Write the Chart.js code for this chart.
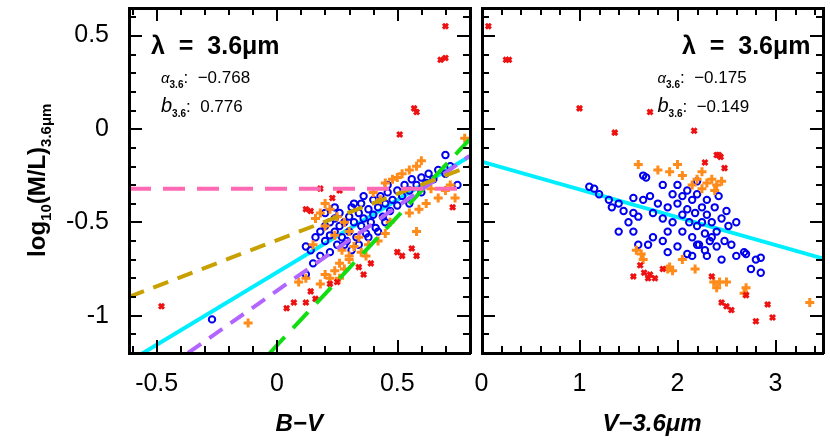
<!DOCTYPE html><html><head><meta charset="utf-8">
<script src="https://cdn.jsdelivr.net/npm/chart.js@4"></script>
<style>body{margin:0;background:#fff}canvas{position:absolute;top:0}</style></head><body>
<div id="wrapL" style="position:absolute;left:0;top:0;width:477px;height:443px"><canvas id="cL"></canvas></div>
<div id="wrapR" style="position:absolute;left:474px;top:0;width:356px;height:443px"><canvas id="cR"></canvas></div>
<script>
const xTicksL=[-0.5,0,0.5], yTicks=[0.5,0,-0.5,-1], xTicksR=[0,1,2,3];
const fitL={a:-0.768,b:0.776}, fitR={a:-0.175,b:-0.149};
const pinkLine=[[-0.615,-0.32],[0.8,-0.32]];
const goldLine=[[-0.615,-0.9],[0.8,-0.2]];
const purpleLine=[[-0.37,-1.2],[0.8,-0.145]];
const greenLine=[[-0.03,-1.2],[0.8,-0.057]];
const redL=[[0.7,0.55],[0.68,0.37],[0.7,0.38],[0.57,0.11],[0.58,0.09],[0.51,-0.03],[0.73,-0.42],[-0.48,-0.95],[0.12,-0.43],[0.14,-0.44],[0.18,-0.32],[0.26,-0.33],[0.23,-0.37],[0.5,-0.66],[0.52,-0.68],[0.58,-0.68],[0.56,-0.64],[0.39,-0.72],[0.36,-0.78],[0.25,-0.82],[0.22,-0.83],[0.14,-0.87],[0.16,-0.91],[0.07,-0.93],[0.04,-0.96],[0.12,-0.93],[0.34,-0.74]];
const orangeL=[[0.78,-0.05],[0.6,-0.17],[0.58,-0.2],[0.55,-0.22],[0.5,-0.26],[0.48,-0.27],[0.45,-0.29],[0.72,-0.3],[0.74,-0.37],[0.67,-0.37],[0.62,-0.4],[0.59,-0.43],[0.55,-0.45],[0.58,-0.55],[0.47,-0.5],[0.45,-0.56],[0.42,-0.6],[0.38,-0.62],[0.35,-0.66],[0.3,-0.7],[0.26,-0.72],[0.24,-0.76],[0.2,-0.78],[0.22,-0.8],[0.18,-0.83],[0.26,-0.8],[0.28,-0.75],[0.3,-0.68],[0.32,-0.63],[0.2,-0.4],[0.22,-0.43],[0.18,-0.45],[0.25,-0.47],[0.16,-0.48],[0.28,-0.5],[0.2,-0.52],[0.3,-0.55],[0.24,-0.57],[0.34,-0.58],[0.12,-0.8],[0.09,-0.82],[-0.12,-1.04],[0.4,-0.34],[0.43,-0.38],[0.52,-0.24],[0.64,-0.32],[0.7,-0.33],[0.37,-0.68],[0.27,-0.65],[0.15,-0.62]];
const blueL=[[-0.27,-1.02],[0.12,-0.63],[0.14,-0.65],[0.16,-0.58],[0.18,-0.55],[0.2,-0.6],[0.2,-0.52],[0.22,-0.5],[0.22,-0.57],[0.24,-0.55],[0.24,-0.48],[0.26,-0.52],[0.26,-0.45],[0.27,-0.58],[0.28,-0.5],[0.28,-0.62],[0.3,-0.47],[0.3,-0.55],[0.31,-0.42],[0.32,-0.5],[0.33,-0.58],[0.34,-0.45],[0.35,-0.52],[0.35,-0.4],[0.36,-0.48],[0.37,-0.56],[0.38,-0.43],[0.39,-0.5],[0.4,-0.38],[0.4,-0.46],[0.41,-0.53],[0.42,-0.42],[0.43,-0.36],[0.44,-0.47],[0.45,-0.4],[0.46,-0.34],[0.47,-0.44],[0.48,-0.38],[0.5,-0.33],[0.5,-0.41],[0.52,-0.36],[0.53,-0.3],[0.55,-0.33],[0.56,-0.27],[0.58,-0.3],[0.6,-0.26],[0.62,-0.29],[0.63,-0.24],[0.65,-0.27],[0.67,-0.22],[0.7,-0.24],[0.7,-0.14],[0.72,-0.2],[0.75,-0.3],[0.15,-0.72],[0.18,-0.68],[0.22,-0.66],[0.25,-0.62],[0.29,-0.6],[0.31,-0.65],[0.34,-0.62],[0.38,-0.58],[0.42,-0.55],[0.45,-0.5],[0.12,-0.78],[0.2,-0.45],[0.24,-0.42],[0.32,-0.4],[0.36,-0.36],[0.46,-0.3],[0.55,-0.4],[0.6,-0.34]];
const redR=[[0.07,0.55],[0.25,0.37],[0.28,0.37],[1.0,0.11],[1.72,0.09],[1.36,-0.02],[2.17,-0.01],[2.28,-0.18],[2.4,-0.14],[2.42,-0.14],[2.44,-0.15],[2.48,-0.21],[1.62,-0.73],[1.55,-0.79],[1.66,-0.77],[1.72,-0.78],[1.77,-0.8],[1.85,-0.75],[1.7,-0.8],[2.35,-0.79],[2.45,-0.93],[2.5,-0.95],[2.55,-0.97],[2.7,-0.89],[2.92,-0.94],[2.8,-1.03],[2.97,-1.01]];
const orangeR=[[1.6,-0.19],[1.8,-0.22],[1.92,-0.23],[2.0,-0.19],[2.05,-0.25],[2.25,-0.23],[2.2,-0.27],[2.3,-0.29],[2.35,-0.27],[2.4,-0.3],[2.45,-0.28],[2.15,-0.3],[2.25,-0.32],[2.38,-0.33],[1.58,-0.65],[1.63,-0.67],[1.65,-0.7],[1.9,-0.75],[1.95,-0.76],[1.92,-0.74],[2.05,-0.7],[2.18,-0.75],[2.37,-0.82],[2.43,-0.82],[2.5,-0.82],[2.7,-0.85],[2.68,-0.88],[3.35,-0.93],[2.4,-0.85]];
const blueR=[[1.1,-0.31],[1.15,-0.32],[1.2,-0.35],[1.3,-0.38],[1.33,-0.42],[1.4,-0.4],[1.45,-0.44],[1.55,-0.37],[1.55,-0.45],[1.6,-0.47],[1.65,-0.25],[1.68,-0.26],[1.65,-0.38],[1.72,-0.36],[1.75,-0.45],[1.8,-0.4],[1.85,-0.48],[1.9,-0.42],[1.95,-0.35],[1.95,-0.5],[2.0,-0.4],[2.05,-0.46],[2.05,-0.55],[2.1,-0.33],[2.1,-0.43],[2.12,-0.5],[2.15,-0.38],[2.15,-0.58],[2.18,-0.45],[2.2,-0.35],[2.2,-0.52],[2.22,-0.62],[2.25,-0.42],[2.25,-0.5],[2.28,-0.56],[2.3,-0.38],[2.3,-0.46],[2.33,-0.6],[2.35,-0.5],[2.38,-0.42],[2.4,-0.55],[2.42,-0.36],[2.45,-0.48],[2.48,-0.6],[2.5,-0.44],[2.52,-0.52],[2.55,-0.62],[2.6,-0.5],[1.55,-0.55],[1.5,-0.5],[1.4,-0.55],[1.6,-0.62],[1.7,-0.62],[1.75,-0.58],[1.85,-0.6],[1.9,-0.66],[2.0,-0.63],[2.1,-0.67],[2.15,-0.68],[2.3,-0.68],[2.4,-0.63],[2.45,-0.7],[2.6,-0.68],[2.7,-0.67],[2.68,-0.66],[2.8,-0.7],[2.85,-0.69],[2.75,-0.75],[2.85,-0.77],[2.0,-0.3],[2.2,-0.28],[2.05,-0.36],[1.85,-0.3],[1.9,-0.55],[2.35,-0.58],[2.2,-0.62],[2.28,-0.65]];

const pts=a=>a.map(p=>({x:p[0],y:p[1]}));
const scat=(d,c)=>c==='b'?{type:'scatter',data:pts(d),pointStyle:'circle',radius:3.2,borderWidth:2,borderColor:'#0000ee',backgroundColor:'transparent'}
 :c==='o'?{type:'scatter',data:pts(d),pointStyle:'cross',radius:4.5,borderWidth:3,borderColor:'#ff8c1a'}
 :{type:'scatter',data:pts(d),pointStyle:'crossRot',radius:3.5,borderWidth:3,borderColor:'#ee1111'};
const line=(d,c,dash,w)=>({type:'line',data:pts(d),borderColor:c,borderWidth:w||4,borderDash:dash||[],pointRadius:0,fill:false});
const fitPts=(f,x0,x1)=>[[x0,f.a+f.b*x0],[x1,f.a+f.b*x1]];
const F='"Liberation Sans", Arial, sans-serif';

function drawFrame(ch,xmin,xmax,majors,minorX){
 const c=ch.ctx,a=ch.chartArea;c.save();c.fillStyle='#000';
 const ymin=-1.2,ymax=0.65;
 const L=Math.round(a.left),R=Math.round(a.right),T=Math.round(a.top),B=Math.round(a.bottom);
 const px=v=>Math.round(L+(v-xmin)/(xmax-xmin)*(R-L)), py=v=>Math.round(B-(v-ymin)/(ymax-ymin)*(B-T));
 const tk=(vals,len,isX)=>{for(const v of vals){if(isX){const p=px(v);if(p<L+2||p>R-2)continue;c.fillRect(p-1,B-len,2,len);c.fillRect(p-1,T,2,len);}else{const p=py(v);if(p<T+2||p>B-2)continue;c.fillRect(L,p-1,len,2);c.fillRect(R-len,p-1,len,2);}}};
 const mx=[],my=[];for(let i=-20;i<=40;i++){const v=i*minorX;if(v>=xmin&&v<=xmax)mx.push(v);}
 for(let i=-12;i<=7;i++)my.push(i*0.1);
 tk(mx,7,true);tk(my,7,false);tk(majors,13,true);tk(yTicks,13,false);
 c.fillRect(L-1,T-1,R-L+2,3);c.fillRect(L-1,B-1,R-L+2,3);c.fillRect(L-1,T-1,3,B-T+2);c.fillRect(R-1,T-1,3,B-T+2);
 c.restore();}

function drawAnn(ch,fit,right){const c=ch.ctx,a=ch.chartArea;c.save();c.fillStyle='#000';
 c.font='bold 25px '+F;c.textBaseline='alphabetic';
 const t='λ  =  3.6μm';let x=right?a.right-12-c.measureText(t).width:a.left+22;c.fillText(t,x,a.top+46);
 const row=(sym,val,y)=>{let xx=right?a.right-165:a.left+32;c.font=(sym==='α'?'italic 15px ':'italic 20px ')+F;c.fillText(sym,xx,y);xx+=c.measureText(sym).width;
  c.font='bold 10px '+F;c.fillText('3.6',xx,y+5);xx+=c.measureText('3.6').width;c.font='17px '+F;c.fillText(':  '+val,xx,y);};
 row('α',fit.a>=0?fit.a.toFixed(3):'−'+Math.abs(fit.a).toFixed(3),a.top+75);
 row('b',fit.b>=0?fit.b.toFixed(3):'−'+Math.abs(fit.b).toFixed(3),a.top+104);
 if(!right){c.translate(37,a.top+(a.bottom-a.top)/2);c.rotate(-Math.PI/2);
  const parts=[['log',24,0],['10',15,6],['(M/L)',24,0],['3.6μm',15,6]];let w=0;parts.forEach(p=>{c.font='bold '+p[1]+'px '+F;w+=c.measureText(p[0]).width});
  let xx=-w/2;parts.forEach(p=>{c.font='bold '+p[1]+'px '+F;c.fillText(p[0],xx,8+p[2]);xx+=c.measureText(p[0]).width;});}
 c.restore();}

const noPad=s=>{s.paddingLeft=0;s.paddingRight=0;s.paddingTop=0;s.paddingBottom=0;};
function mk(id,xmin,xmax,majors,minorX,title,ds,fit,right){
 return new Chart(document.getElementById(id),{data:{datasets:ds},options:{responsive:true,maintainAspectRatio:false,animation:false,
  layout:{padding:{top:5,right:right?7:1,left:right?2:0,bottom:0}},plugins:{legend:{display:false},tooltip:{enabled:false}},
  scales:{x:{type:'linear',min:xmin,max:xmax,grid:{display:false},border:{display:false},
    afterBuildTicks:s=>{s.ticks=majors.map(v=>({value:v}))},afterFit:s=>{s.height=90;noPad(s)},
    ticks:{color:'#000',font:{size:25,family:F},padding:8,maxRotation:0,callback:v=>String(v)},
    title:{display:true,text:title,color:'#000',font:{size:24,weight:'bold',style:'italic',family:F},padding:{top:0}}},
   y:{type:'linear',min:-1.2,max:0.65,display:true,grid:{display:false},border:{display:false},
    afterBuildTicks:s=>{s.ticks=yTicks.map(v=>({value:v}))},afterFit:s=>{s.width=right?0:129;noPad(s)},
    ticks:{display:!right,color:'#000',font:{size:25,family:F},padding:12,callback:v=>String(v)}}}},
  plugins:[{id:'deco',afterDraw(ch){drawFrame(ch,xmin,xmax,majors,minorX);drawAnn(ch,fit,right);}}]});}

mk('cL',-0.615,0.8,xTicksL,0.1,'B−V',[
 line(pinkLine,'#ff69b4',[22,12]),line(goldLine,'#c8a000',[16,10]),line(purpleLine,'#b266ff',[16,10]),line(greenLine,'#11dd11',[22,12]),
 scat(redL,'r'),scat(orangeL,'o'),scat(blueL,'b'),line(fitPts(fitL,-0.615,0.8),'#00eeff')],fitL,false);
mk('cR',0,3.48,xTicksR,0.2,'V−3.6μm',[scat(redR,'r'),scat(orangeR,'o'),scat(blueR,'b'),line(fitPts(fitR,0,3.48),'#00eeff')],fitR,true);
</script></body></html>
